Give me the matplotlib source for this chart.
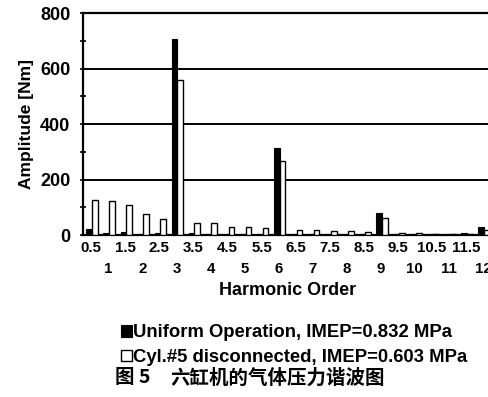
import matplotlib
matplotlib.use("Agg")
import matplotlib.pyplot as plt
from matplotlib.ticker import MultipleLocator
import numpy as np

orders = ["0.5", "1", "1.5", "2", "2.5", "3", "3.5", "4", "4.5", "5", "5.5", "6",
          "6.5", "7", "7.5", "8", "8.5", "9", "9.5", "10", "10.5", "11", "11.5", "12"]
uniform = [20, 8, 12, 2, 8, 708, 8, 3, 4, 3, 4, 313,
           4, 3, 3, 3, 3, 80, 3, 3, 3, 3, 8, 28]
cyl5 = [126, 122, 107, 75, 57, 558, 42, 42, 30, 28, 24, 268,
        18, 17, 15, 14, 12, 62, 8, 6, 5, 5, 5, 18]
yticks = [0, 200, 400, 600, 800]
label_uniform = "Uniform Operation, IMEP=0.832 MPa"
label_cyl5 = "Cyl.#5 disconnected, IMEP=0.603 MPa"
caption_num = "图 5"
caption_txt = "六缸机的气体压力谐波图"

plt.rcParams['font.family'] = ['Liberation Sans', 'DejaVu Sans']
plt.rcParams['font.weight'] = 'bold'

fig = plt.figure(figsize=(4.88, 3.97), dpi=100)
ax = fig.add_axes([0.1695, 0.408, 0.8377, 0.5585])

x = np.arange(len(orders))
w = 0.34
b1 = ax.bar(x - 0.11, uniform, width=w, color='black', edgecolor='black',
            linewidth=0.8, label=label_uniform, zorder=3)
b2 = ax.bar(x + 0.23, cyl5, width=w, color='white', edgecolor='black',
            linewidth=1.0, label=label_cyl5, zorder=3)

ax.set_xlim(-0.5, len(orders) - 0.5)
ax.set_ylim(0, 800)
ax.set_yticks(yticks)
ax.yaxis.set_minor_locator(MultipleLocator(100))
ax.set_yticklabels([str(v) for v in yticks], fontsize=13, fontweight='bold')
ax.tick_params(axis='y', which='both', direction='inout', length=4, width=1.2, pad=7)
ax.yaxis.grid(True, color='black', linewidth=1.4, zorder=0)
ax.set_axisbelow(True)

labels = [o if i % 2 == 0 else "\n" + o for i, o in enumerate(orders)]
ax.set_xticks(x)
ax.set_xticklabels(labels, fontsize=10.8, fontweight='bold')
for t in ax.get_xticklabels():
    t.set_linespacing(1.68)
ax.tick_params(axis='x', length=0, pad=4)

for s in ['left', 'bottom', 'top']:
    ax.spines[s].set_linewidth(1.6)
    ax.spines[s].set_color('black')
ax.spines['right'].set_visible(False)

ax.set_ylabel("Amplitude [Nm]", fontsize=12.5, fontweight='bold', labelpad=4)
ax.set_xlabel("Harmonic Order", fontsize=13, fontweight='bold', labelpad=4)

fig.legend(handles=[b1, b2], loc='upper left', bbox_to_anchor=(0.247, 0.183),
           frameon=False, fontsize=13.3, handlelength=0.6, handleheight=0.6,
           handletextpad=0.08, labelspacing=0.42, borderpad=0, borderaxespad=0)

fig.text(115 / 488, 0.048, caption_num, fontsize=14, fontweight='bold',
         family=['Noto Sans CJK SC', 'DejaVu Sans'], va='center', ha='left')
fig.text(170 / 488, 0.048, caption_txt, fontsize=14, fontweight='bold',
         family=['Noto Sans CJK SC', 'DejaVu Sans'], va='center', ha='left')

fig.savefig("out.png", dpi=100)
